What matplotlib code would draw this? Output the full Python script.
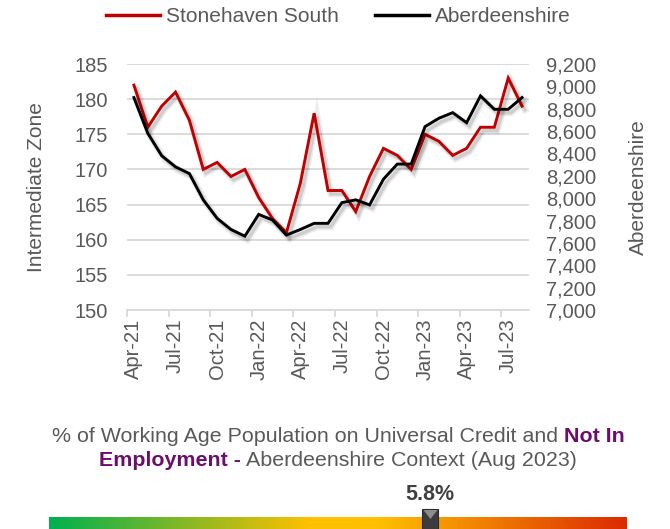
import matplotlib
matplotlib.use("Agg")
import matplotlib.pyplot as plt
import matplotlib.patheffects as pe
from matplotlib.colors import LinearSegmentedColormap
from matplotlib.patches import Rectangle, Polygon
from matplotlib.ticker import FuncFormatter, FixedLocator
import numpy as np

plt.rcParams['font.family'] = ['Liberation Sans', 'DejaVu Sans']

months = ["Apr-21", "May-21", "Jun-21", "Jul-21", "Aug-21", "Sep-21", "Oct-21", "Nov-21", "Dec-21",
          "Jan-22", "Feb-22", "Mar-22", "Apr-22", "May-22", "Jun-22", "Jul-22", "Aug-22", "Sep-22",
          "Oct-22", "Nov-22", "Dec-22", "Jan-23", "Feb-23", "Mar-23", "Apr-23", "May-23", "Jun-23",
          "Jul-23", "Aug-23"]
stonehaven = [182, 176, 179, 181, 177, 170, 171, 169, 170, 166, 163, 161, 168, 178, 167, 167, 164,
              169, 173, 172, 170, 175, 174, 172, 173, 176, 176, 183, 179]
aberdeenshire = [8900, 8580, 8380, 8280, 8220, 7985, 7820, 7720, 7660, 7855, 7805, 7670, 7720, 7775,
                 7775, 7960, 7985, 7940, 8170, 8305, 8305, 8640, 8715, 8765, 8675, 8915, 8795, 8795, 8900]
left_ticks = [150, 155, 160, 165, 170, 175, 180, 185]
right_ticks = [7000, 7200, 7400, 7600, 7800, 8000, 8200, 8400, 8600, 8800, 9000, 9200]
context_value = 5.8
context_pos = 0.66  # relative position of the marker along the gradient bar

W, H = 670, 529
GREY = '#595959'
PURPLE = '#6B0F6B'
RED = '#C00000'
fig = plt.figure(figsize=(W / 100, H / 100), dpi=100)

ax = fig.add_axes([127 / W, 1 - 310 / H, (529 - 127) / W, (310 - 64) / H])
x = np.arange(len(months))
shadow = [pe.SimpleLineShadow(offset=(2, -2.5), shadow_color='black', alpha=0.07, rho=0.3, linewidth=5),
          pe.SimpleLineShadow(offset=(2, -2.5), shadow_color='black', alpha=0.13, rho=0.3, linewidth=2.5),
          pe.Normal()]
l1, = ax.plot(x, stonehaven, color=RED, lw=2.1, path_effects=shadow, zorder=3, solid_joinstyle='miter')
ax.set_ylim(150, 185)
ax.set_xlim(-0.5, len(months) - 0.5)
ax.set_yticks(left_ticks)
ax.yaxis.grid(True, color='#D9D9D9', lw=1.3)
ax.set_axisbelow(True)
for s in ['top', 'left', 'right']:
    ax.spines[s].set_visible(False)
ax.spines['bottom'].set_color('#D9D9D9')
ax.spines['bottom'].set_linewidth(1.3)
ax.tick_params(axis='y', length=0, labelsize=14.5, labelcolor=GREY, pad=13.5)
ax.xaxis.set_major_locator(FixedLocator(np.arange(-0.5, len(months), 3)))
ax.set_xticklabels([])
ax.xaxis.set_minor_locator(FixedLocator(np.arange(0, len(months), 3)))
ax.set_xticklabels([months[i] for i in range(0, len(months), 3)], minor=True)
ax.tick_params(axis='x', which='major', length=5, color='#D9D9D9', width=1.3)
ax.tick_params(axis='x', which='minor', length=0, labelsize=14.5, labelcolor=GREY, rotation=90, pad=6)
ax.set_ylabel('Intermediate Zone', fontsize=15, color=GREY, labelpad=21)

ax2 = ax.twinx()
l2, = ax2.plot(x, aberdeenshire, color='black', lw=2.1, path_effects=shadow, zorder=3, solid_joinstyle='miter')
ax2.set_ylim(7000, 9200)
ax2.set_yticks(right_ticks)
ax2.yaxis.set_major_formatter(FuncFormatter(lambda v, p: f'{int(v):,}'))
ax2.tick_params(axis='y', length=0, labelsize=14.5, labelcolor=GREY, pad=12.5)
for s in ax2.spines.values():
    s.set_visible(False)
ax2.set_ylabel('Aberdeenshire', fontsize=15, color=GREY, labelpad=23)

fig.legend([l1, l2], ['Stonehaven South', 'Aberdeenshire'], loc='upper center',
           bbox_to_anchor=(0.505, 1.022), ncol=2, frameon=False, fontsize=15,
           labelcolor=GREY, handlelength=2.6, handletextpad=0.3, columnspacing=1.7)
for h in fig.legends[0].legend_handles:
    h.set_path_effects([])
    h.set_linewidth(2.5)

# rich text lines
def rich_line(y_px, parts, fontsize=15.4):
    texts = []
    for s, color, weight in parts:
        t = fig.text(0, 1 - y_px / H, s, color=color, fontweight=weight, fontsize=fontsize,
                     ha='left', va='center')
        texts.append(t)
    sp = fig.text(0, 0, 'a a', fontsize=fontsize)
    sp2 = fig.text(0, 0, 'aa', fontsize=fontsize)
    fig.canvas.draw()
    r = fig.canvas.get_renderer()
    space = sp.get_window_extent(r).width - sp2.get_window_extent(r).width
    sp.remove(); sp2.remove()
    widths = [t.get_window_extent(r).width for t in texts]
    total = sum(widths) + space * (len(texts) - 1)
    xpos = (W - total) / 2 + 3
    for t, w in zip(texts, widths):
        t.set_x(xpos / W)
        xpos += w + space

rich_line(437, [('% of Working Age Population on Universal Credit and', GREY, 'normal'),
                ('Not In', PURPLE, 'bold')])
rich_line(461, [('Employment -', PURPLE, 'bold'),
                ('Aberdeenshire Context (Aug 2023)', GREY, 'normal')])

# gradient bar
bx0, bx1 = 49, 627
bar_ax = fig.add_axes([bx0 / W, 0, (bx1 - bx0) / W, 12 / H])
cmap = LinearSegmentedColormap.from_list('ctx', [(0, '#00B050'), (0.45, '#FFC000'),
                                                 (0.57, '#FFC000'), (1.0, '#DC2A00')])
bar_ax.imshow(np.linspace(0, 1, 512)[None, :], aspect='auto', cmap=cmap, extent=[0, 1, 0, 1])
bar_ax.set_axis_off()

mx = bx0 + context_pos * (bx1 - bx0)
fig.add_artist(Rectangle(((mx - 8) / W, 0), 16 / W, 20 / H, transform=fig.transFigure,
                         facecolor='#3C3C3C', edgecolor='#2A2A2A', lw=0.8, zorder=5))
fig.add_artist(Polygon([((mx - 7) / W, 1 - 510 / H), ((mx + 7) / W, 1 - 510 / H), (mx / W, 1 - 519 / H)],
                       closed=True, transform=fig.transFigure, facecolor='#8C8C8C',
                       edgecolor='none', zorder=6))
fig.text((mx - 1) / W, 1 - 494 / H, f'{context_value}%', fontsize=15.5, fontweight='bold',
         color='#404040', ha='center', va='center')

fig.savefig('out.png', dpi=100)
